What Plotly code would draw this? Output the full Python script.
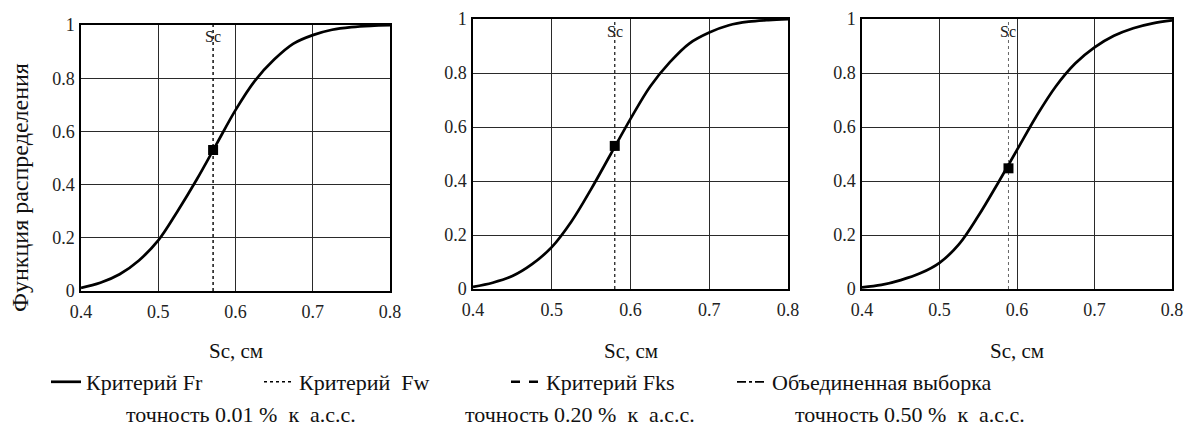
import plotly.graph_objects as go

# ---------------- data ----------------
sc_x = [0.400, 0.425, 0.450, 0.475, 0.500, 0.525, 0.550, 0.575, 0.600,
        0.625, 0.650, 0.675, 0.700, 0.725, 0.750, 0.775, 0.800]

cdf_001 = [0.012, 0.031, 0.063, 0.115, 0.19, 0.30, 0.42, 0.55, 0.68,
           0.79, 0.87, 0.93, 0.962, 0.982, 0.992, 0.997, 0.999]
cdf_020 = [0.008, 0.023, 0.048, 0.092, 0.155, 0.25, 0.37, 0.50, 0.63,
           0.75, 0.84, 0.91, 0.95, 0.977, 0.99, 0.996, 0.999]
cdf_050 = [0.006, 0.015, 0.033, 0.058, 0.097, 0.165, 0.27, 0.39, 0.515,
           0.64, 0.75, 0.835, 0.895, 0.938, 0.966, 0.984, 0.995]

sc_point_x = [0.571, 0.580, 0.589]
sc_point_y = [0.53, 0.53, 0.447]

NB = "\u00a0"
captions = ["точность 0.01 %" + NB + NB + "к" + NB + NB + "а.с.с.",
            "точность 0.20 %" + NB + NB + "к" + NB + NB + "а.с.с.",
            "точность 0.50 %" + NB + NB + "к" + NB + NB + "а.с.с."]
legend_names = ["Критерий Fr", "Критерий" + NB + NB + "Fw", "Критерий Fks",
                "Объединенная выборка"]
x_ticks = [0.4, 0.5, 0.6, 0.7, 0.8]
x_tick_text = ["0.4", "0.5", "0.6", "0.7", "0.8"]
y_ticks = [0, 0.2, 0.4, 0.6, 0.8, 1.0]
y_tick_text = ["0", "0.2", "0.4", "0.6", "0.8", "1"]
x_title = "Sc, см"
y_title = "Функция распределения"

# ---------------- layout geometry ----------------
W, H = 1190, 429
SERIF = "Liberation Serif, Times New Roman, serif"

def px_x(p):
    return p / W

def px_y(p):
    return 1 - p / H

panels = [  # left, right, top, bottom (pixels)
    (81, 390, 25, 291),
    (473, 788, 19, 289),
    (862, 1172, 19, 289),
]
series = [cdf_001, cdf_020, cdf_050]
vline_style = [
    dict(color="#111111", width=1.5, dash="dot"),
    dict(color="#222222", width=1.3, dash="dot"),
    dict(color="#666666", width=1.0, dash="3px,3px"),
]
sc_label_y = [0.958, 0.955, 0.955]
caption_px = [241, 580, 910]

fig = go.Figure()

for i, (l, r, t, b) in enumerate(panels):
    n = "" if i == 0 else str(i + 1)
    xa, ya = "x" + n, "y" + n
    fig.add_trace(go.Scatter(
        x=sc_x, y=series[i], mode="lines", line=dict(color="black", width=2.7, shape="spline"),
        xaxis=xa, yaxis=ya, name=legend_names[0], showlegend=(i == 0), legend="legend"))
    fig.add_trace(go.Scatter(
        x=[sc_point_x[i], sc_point_x[i]], y=[0, 1], mode="lines",
        line=vline_style[i], xaxis=xa, yaxis=ya, showlegend=False))
    fig.add_trace(go.Scatter(
        x=[sc_point_x[i]], y=[sc_point_y[i]], mode="markers",
        marker=dict(symbol="square", size=10, color="black"),
        xaxis=xa, yaxis=ya, showlegend=False))
    axis_common = dict(showgrid=True, gridcolor="#2a2a2a", gridwidth=1, zeroline=False,
                       showline=True, linecolor="black", linewidth=1.5, mirror=True,
                       ticks="", automargin=False,
                       tickfont=dict(family=SERIF, size=18, color="#222222"))
    fig.update_layout(**{
        ("xaxis" + n): dict(domain=[px_x(l), px_x(r)], range=[0.4, 0.8], anchor=ya,
                            tickmode="array", tickvals=x_ticks, ticktext=x_tick_text,
                            ticklabelstandoff=4, **axis_common),
        ("yaxis" + n): dict(domain=[px_y(b), px_y(t)], range=[0, 1], anchor=xa,
                            tickmode="array", tickvals=y_ticks, ticktext=y_tick_text,
                            ticklabelstandoff=1, **axis_common),
    })
    fig.add_annotation(x=sc_point_x[i], y=sc_label_y[i], xref=xa, yref=ya, text="Sc",
                       xanchor="center", yanchor="middle", showarrow=False,
                       font=dict(family=SERIF, size=16, color="#222222"))
    fig.add_annotation(x=px_x((l + r) / 2), y=px_y(351), xref="paper", yref="paper",
                       text=x_title, xanchor="center", yanchor="middle", showarrow=False,
                       font=dict(family=SERIF, size=21, color="#111111"))
    fig.add_annotation(x=px_x(caption_px[i]), y=px_y(414), xref="paper", yref="paper",
                       text=captions[i], xanchor="center", yanchor="middle", showarrow=False,
                       borderpad=0, font=dict(family=SERIF, size=22, color="#111111"))

# legend-only samples for the other criteria
fig.add_trace(go.Scatter(x=[None], y=[None], mode="lines",
                         line=dict(color="black", width=1.6, dash="dot"),
                         name=legend_names[1], legend="legend2"))
fig.add_trace(go.Scatter(x=[None], y=[None], mode="lines",
                         line=dict(color="black", width=2.6, dash="dash"),
                         name=legend_names[2], legend="legend3"))
fig.add_trace(go.Scatter(x=[None], y=[None], mode="lines",
                         line=dict(color="black", width=1.8, dash="dashdot"),
                         name=legend_names[3], legend="legend4"))

fig.add_annotation(x=px_x(20), y=px_y(188), xref="paper", yref="paper", text=y_title,
                   xanchor="center", yanchor="middle", textangle=-90, showarrow=False,
                   font=dict(family=SERIF, size=24, color="#111111"))

leg_font = dict(family=SERIF, size=22, color="#111111")
leg_text_starts = [87, 300, 547, 773]
legends = {}
for k, ts in enumerate(leg_text_starts):
    key = "legend" if k == 0 else "legend" + str(k + 1)
    legends[key] = dict(x=px_x(ts - 41), y=px_y(382), xanchor="left", yanchor="middle",
                        bgcolor="rgba(0,0,0,0)", borderwidth=0, font=leg_font,
                        orientation="h")

fig.update_layout(width=W, height=H,
                  margin=dict(l=0, r=0, t=0, b=0, pad=0, autoexpand=False),
                  paper_bgcolor="white", plot_bgcolor="white", **legends)

fig.write_html("out.html")
